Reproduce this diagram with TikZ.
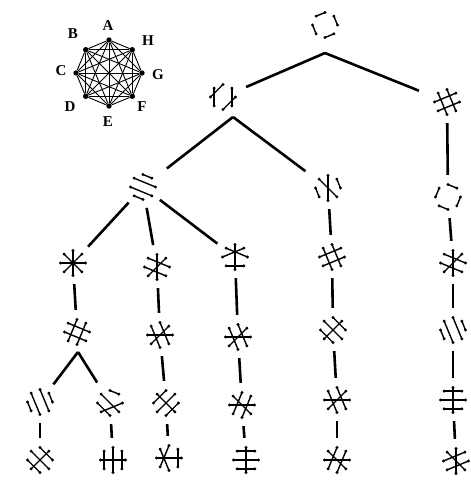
\documentclass[tikz,border=0pt]{standalone}
\usepackage{fontspec}
\setmainfont{Liberation Serif}
\begin{document}
\begin{tikzpicture}[x=1pt,y=-1pt,
  glyph/.style={circle,minimum size=28pt,inner sep=0pt},
  chord/.style={line width=1.4pt,line cap=round},
  link/.style={line width=2.6pt,shorten <=7pt,shorten >=8pt},
  branch/.style={line width=2.6pt,shorten >=12pt},
  vdot/.style={circle,fill=black,inner sep=0pt,minimum size=5.4pt},
  edge/.style={line width=0.9pt},
  vlabel/.style={font=\fontsize{15}{15}\selectfont\bfseries,inner sep=0pt}]
\useasboundingbox (0,0) rectangle (471,480);

% complete graph on eight vertices
\node[vdot] (A) at (109,40) {};
\node[vdot] (H) at (132.3,49.7) {};
\node[vdot] (G) at (142,73) {};
\node[vdot] (F) at (132.3,96.3) {};
\node[vdot] (E) at (109,106) {};
\node[vdot] (D) at (85.7,96.3) {};
\node[vdot] (C) at (76,73) {};
\node[vdot] (B) at (85.7,49.7) {};
\foreach \a [count=\i] in {A,B,C,D,E,F,G,H}{
  \foreach \b [count=\j] in {A,B,C,D,E,F,G,H}{
    \ifnum\j>\i \draw[edge] (\a) -- (\b); \fi
  }
}
\node[vlabel] (lA) at (108,26) {A};
\node[vlabel] (lH) at (148,41) {H};
\node[vlabel] (lG) at (158,75) {G};
\node[vlabel] (lF) at (142,107) {F};
\node[vlabel] (lE) at (108,122) {E};
\node[vlabel] (lD) at (70,107) {D};
\node[vlabel] (lC) at (61,71) {C};
\node[vlabel] (lB) at (73,34) {B};

% perfect matchings on the octagon (vertex k at angle 90-45k)
\foreach \n/\x/\y/\p in {
  r/325/25/{0/7,6/5,4/3,2/1},
  n1/223/97/{0/6,7/5,4/2,3/1},
  n2/447/102/{0/3,7/4,1/6,2/5},
  n11/143/187/{0/1,7/2,6/3,5/4},
  n12/328/188/{0/4,1/2,5/6,3/7},
  n21/448/197/{0/1,7/6,5/4,3/2},
  a1/73/263/{0/4,1/5,2/6,3/7},
  a2/77/332/{0/5,1/4,7/2,6/3},
  a3/40/402/{0/3,7/4,1/2,6/5},
  a4/40/460/{0/2,7/3,6/4,1/5},
  b3/110/403/{0/1,7/3,6/4,2/5},
  b4/113/460/{1/3,0/4,7/5,6/2},
  c1/157/267/{0/4,1/5,2/7,3/6},
  c2/160/335/{0/3,1/5,2/6,4/7},
  c3/166/403/{0/6,1/5,2/4,3/7},
  c4/169/458/{0/5,1/3,2/6,4/7},
  d1/235/257/{0/4,7/2,1/6,3/5},
  d2/238/337/{0/3,7/4,6/2,1/5},
  d3/242/405/{0/5,1/4,2/6,3/7},
  d4/246/460/{7/1,6/2,5/3,0/4},
  e2/332/257/{0/3,7/4,1/6,2/5},
  e3/333/330/{0/2,7/3,1/5,4/6},
  e4/337/400/{0/3,7/4,1/5,2/6},
  e5/337/460/{0/5,1/4,7/3,2/6},
  f3/453/263/{0/4,1/5,2/7,3/6},
  f4/453/330/{0/3,7/4,1/2,5/6},
  f5/453/400/{0/4,7/1,6/2,5/3},
  f6/456/461/{0/4,1/6,2/5,3/7}}{
  \node[glyph] (\n) at (\x,\y) {};
  \foreach \i/\j in \p {
    \draw[chord] ([shift={(90-45*\i:12.5pt)}]\n.center) -- ([shift={(90-45*\j:12.5pt)}]\n.center);
    \fill ([shift={(90-45*\i:12.5pt)}]\n.center) circle (1.6pt);
    \fill ([shift={(90-45*\j:12.5pt)}]\n.center) circle (1.6pt);
  }
}

% branching points
\coordinate (p0) at (325,53);
\coordinate (p1) at (233,117);
\coordinate (p2) at (78,352);

% tree connectors
\draw[branch,shorten >=11pt] (p0) -- (n1);
\draw[branch,shorten >=16pt] (p0) -- (n2);
\draw[branch,shorten >=16pt] (p1) -- (n11);
\draw[branch,shorten >=14pt] (p1) -- (n12);
\draw[branch,shorten >=8pt] (p2) -- (a3);
\draw[branch,shorten >=10pt] (p2) -- (b3);
\draw[link] (n2) -- (n21);
\draw[link] (n11) -- (a1);
\draw[link] (n11) -- (c1);
\draw[link] (n11) -- (d1);
\draw[link] (a1) -- (a2);
\draw[link] (a3) -- (a4);
\draw[link] (b3) -- (b4);
\draw[link] (c1) -- (c2);
\draw[link] (c2) -- (c3);
\draw[link] (c3) -- (c4);
\draw[link] (d1) -- (d2);
\draw[link] (d2) -- (d3);
\draw[link] (d3) -- (d4);
\draw[link] (n12) -- (e2);
\draw[link] (e2) -- (e3);
\draw[link] (e3) -- (e4);
\draw[link] (e4) -- (e5);
\draw[link] (n21) -- (f3);
\draw[link] (f3) -- (f4);
\draw[link] (f4) -- (f5);
\draw[link] (f5) -- (f6);
\end{tikzpicture}
\end{document}
